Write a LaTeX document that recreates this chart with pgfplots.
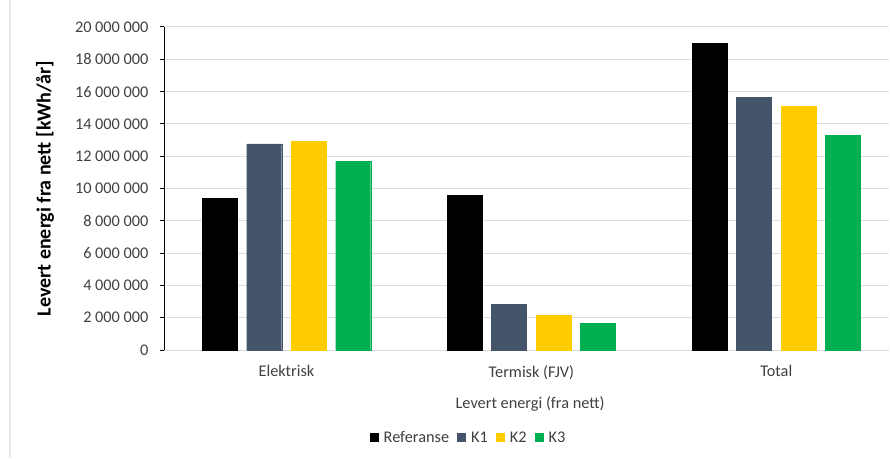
\documentclass[border=0pt]{standalone}
\usepackage{pgfplots}
\pgfplotsset{compat=1.18}
\usepackage{fontspec}
\setmainfont{Carlito}
\definecolor{kone}{HTML}{44546A}
\definecolor{ktwo}{HTML}{FFCC00}
\definecolor{kthree}{HTML}{00B050}
\definecolor{ticktext}{HTML}{404040}
\begin{document}
\begin{tikzpicture}
\path[use as bounding box] (0,0) rectangle (890pt,458pt);
\draw[black!8, line width=2pt] (10pt,0) -- (10pt,458pt);
\begin{axis}[
  at={(164pt,108pt)}, anchor=south west,
  scale only axis, width=725pt, height=323pt,
  xmin=-0.5, xmax=2.46, ymin=0, ymax=20000000,
  scaled y ticks=false,
  ybar=9.5pt, bar width=35pt,
  axis lines*=left,
  x axis line style={draw=black!15, line width=1pt},
  y axis line style={draw=black, line width=1pt},
  xtick={0,1,2}, xticklabels={Elektrisk,Termisk (FJV),Total},
  xtick style={draw=none},
  ytick={0,2000000,4000000,6000000,8000000,10000000,12000000,14000000,16000000,18000000,20000000},
  yticklabels={0,2 000 000,4 000 000,6 000 000,8 000 000,10 000 000,12 000 000,14 000 000,16 000 000,18 000 000,20 000 000},
  tick align=outside, major tick length=4pt,
  ytick style={draw=black, line width=1pt},
  ymajorgrids, grid style={draw=black!13, line width=1pt},
  tick label style={font=\fontsize{16.3}{17}\selectfont, text=ticktext},
  yticklabel style={xshift=-8pt},
  xticklabel style={yshift=-8pt},
  ylabel={\textbf{Levert energi fra nett [kWh/år]}},
  ylabel style={font=\fontsize{20}{20}\selectfont, at={(axis description cs:-0.164,0.5)}, anchor=center, rotate=0},
  xlabel={Levert energi (fra nett)},
  xlabel style={font=\fontsize{16.3}{17}\selectfont, text=ticktext, at={(axis description cs:0.505,-0.167)}, anchor=center},
  legend style={at={(axis description cs:0.42,-0.272)}, anchor=center, draw=none, fill=none,
    legend columns=4, font=\fontsize{16.3}{17}\selectfont, text=ticktext,
    /tikz/every even column/.append style={column sep=6pt}},
  legend image code/.code={\fill[#1, draw=none] (0pt,-4.5pt) rectangle (9pt,4.5pt); \path[draw=none, fill=none] (0pt,0pt) rectangle (12pt,0pt);},
  legend cell align=left,
]
\addplot[fill=black, draw=black] coordinates {(0,9390000) (1,9560000) (2,19000000)};
\addplot[fill=kone, draw=kone] coordinates {(0,12760000) (1,2820000) (2,15640000)};
\addplot[fill=ktwo, draw=ktwo] coordinates {(0,12920000) (1,2140000) (2,15080000)};
\addplot[fill=kthree, draw=kthree] coordinates {(0,11680000) (1,1650000) (2,13300000)};
\legend{Referanse,K1,K2,K3}
\end{axis}
\end{tikzpicture}
\end{document}
